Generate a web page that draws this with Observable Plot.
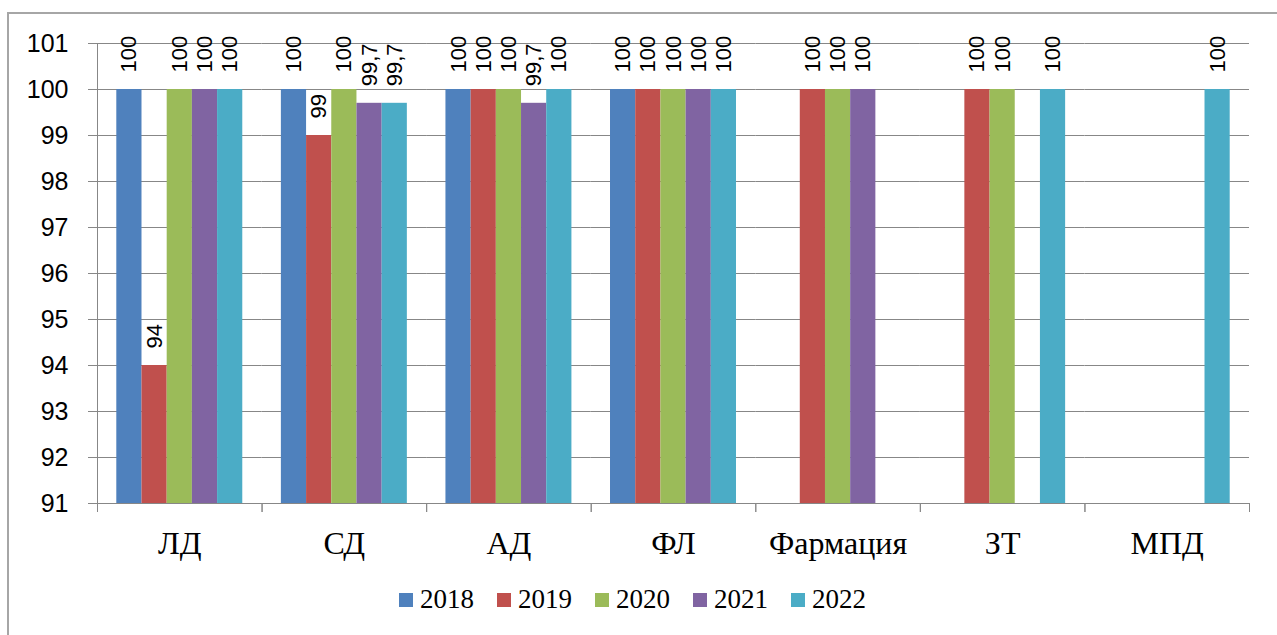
<!DOCTYPE html>
<html>
<head>
<meta charset="utf-8">
<script src="https://cdn.jsdelivr.net/npm/d3@7"></script>
<script src="https://cdn.jsdelivr.net/npm/@observablehq/plot@0.6"></script>
<style>
  html, body { margin: 0; padding: 0; background: #fff; overflow: hidden; }
  #wrap { position: relative; width: 1277px; height: 635px; }
  #border { position: absolute; left: 7px; top: 12px; width: 1300px; height: 700px; border: 2px solid #a6a6a6; box-sizing: border-box; }
  #chart { position: absolute; left: 0; top: 0; }
  #legend { position: absolute; left: 399px; top: 584px; display: flex; align-items: center; font-family: "Liberation Serif", "Times New Roman", serif; font-size: 27px; color: #000; }
  .item { display: flex; align-items: center; margin-right: 23px; }
  .sw { width: 14px; height: 14px; margin-right: 7px; }
</style>
</head>
<body>
<div id="wrap">
  <div id="border"></div>
  <div id="chart"></div>
  <div id="legend"></div>
</div>
<script>
// ---- data ----
const categories = ["ЛД", "СД", "АД", "ФЛ", "Фармация", "ЗТ", "МПД"];
const years = ["2018", "2019", "2020", "2021", "2022"];
const colors = ["#4F81BD", "#C0504D", "#9BBB59", "#8064A2", "#4BACC6"];
const v2018 = [100, 100, 100, 100, null, null, null];
const v2019 = [94, 99, 100, 100, 100, 100, null];
const v2020 = [100, 100, 100, 100, 100, 100, null];
const v2021 = [100, 99.7, 99.7, 100, 100, null, null];
const v2022 = [100, 99.7, 100, 100, null, 100, 100];
const yTicks = [91, 92, 93, 94, 95, 96, 97, 98, 99, 100, 101];

// ---- build table ----
const series = [v2018, v2019, v2020, v2021, v2022];
const rows = [];
categories.forEach((c, i) => {
  years.forEach((y, j) => {
    const v = series[j][i];
    if (v != null) rows.push({cat: c, year: y, value: v});
  });
});

// ---- layout ----
const W = 1277, H = 575;
const mL = 97, mR = 28, mT = 43, mB = 72;
const padOuter = 0.766;
const yMin = yTicks[0], yMax = yTicks[yTicks.length - 1];
const facetW = (W - mL - mR) / categories.length;
const step = facetW / (years.length + 2 * padOuter);
const off = padOuter * step + step / 2;
const plotH = H - mT - mB;
const gray = "#878787";
const sans = "'Liberation Sans', Arial, sans-serif";
const serif = "'Liberation Serif', 'Times New Roman', serif";

const chart = Plot.plot({
  width: W,
  height: H,
  marginLeft: mL,
  marginRight: mR,
  marginTop: mT,
  marginBottom: mB,
  style: {background: "transparent", color: "#000"},
  fx: {domain: categories, padding: 0, round: false},
  x: {domain: years, paddingInner: 0, paddingOuter: padOuter, round: false, axis: null},
  y: {domain: [yMin, yMax]},
  color: {domain: years, range: colors},
  marks: [
    Plot.gridY({ticks: yTicks, stroke: gray, strokeOpacity: 1, strokeWidth: 1}),
    Plot.barY(rows, {fx: "cat", x: "year", y1: yMin, y2: "value", fill: "year"}),
    Plot.ruleY([yMin], {stroke: gray, strokeWidth: 1}),
    Plot.ruleX([categories[0]], {fx: d => d, x: () => years[0], dx: -off, stroke: gray}),
    Plot.ruleX(categories, {fx: d => d, x: () => years[0], dx: -off, insetTop: plotH, insetBottom: -9, stroke: gray}),
    Plot.ruleX(categories, {fx: d => d, x: () => years[years.length - 1], dx: off, insetTop: plotH, insetBottom: -9, stroke: gray}),
    Plot.axisY({ticks: yTicks, tickFormat: d => String(d), tickSize: 9, tickPadding: 20, stroke: gray, fontSize: 25, fontFamily: sans, label: null}),
    Plot.axisFx({anchor: "bottom", tickSize: 0, tickPadding: 28, fontSize: 32, fontFamily: serif, label: null}),
    Plot.text(rows, {
      fx: "cat", x: "year", y: "value",
      text: d => String(d.value).replace(".", ","),
      rotate: -90, textAnchor: "start", lineAnchor: "middle",
      dy: -17, fontSize: 22, fontFamily: sans, fill: "#000"
    })
  ]
});
document.getElementById("chart").appendChild(chart);

// ---- legend ----
const leg = document.getElementById("legend");
years.forEach((y, j) => {
  const it = document.createElement("div");
  it.className = "item";
  const sw = document.createElement("div");
  sw.className = "sw";
  sw.style.background = colors[j];
  const t = document.createElement("span");
  t.textContent = y;
  it.appendChild(sw);
  it.appendChild(t);
  leg.appendChild(it);
});
</script>
</body>
</html>
